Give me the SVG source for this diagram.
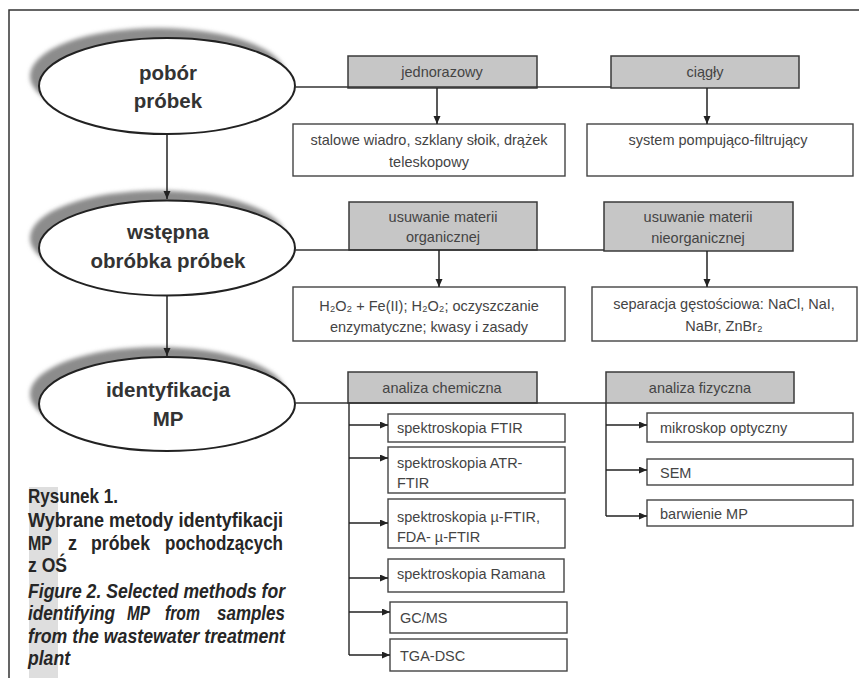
<svg xmlns="http://www.w3.org/2000/svg" width="859" height="678" viewBox="0 0 859 678">
<style>
.ell{fill:#fff;stroke:#222;stroke-width:2}
.sh{fill:#8c8c8c;filter:url(#blur)}
.et{font-family:"Liberation Sans",Arial,sans-serif;font-weight:bold;font-size:20.5px;fill:#333;text-anchor:middle}
.gb{fill:#c6c6c6;stroke:#3a3a3a;stroke-width:1.5}
.wb{fill:#fff;stroke:#444;stroke-width:1.4}
.t{font-family:"Liberation Sans",Arial,sans-serif;font-size:14.5px;fill:#444}
.c{text-anchor:middle}
.ln{fill:none;stroke:#333;stroke-width:1.5}
.ar{fill:none;stroke:#222;stroke-width:1.5;marker-end:url(#ah)}
.cap{font-family:"Liberation Sans",Arial,sans-serif;font-weight:bold;font-size:20px;fill:#262626}
.it{font-style:italic}
</style>
<defs>
<filter id="blur" x="-20%" y="-20%" width="140%" height="140%"><feGaussianBlur stdDeviation="2"/></filter>
<marker id="ah" markerUnits="userSpaceOnUse" markerWidth="9" markerHeight="8" refX="8" refY="3.5" orient="auto"><path d="M0,0 L8,3.5 L0,7 z" fill="#222"/></marker>
</defs>
<rect x="0" y="0" width="859" height="678" fill="#fff"/>
<g id="frame"><path class="ln" d="M9,678 V10 H859"/></g>
<rect id="caption-stripe" x="29" y="487" width="29" height="191" fill="#dedede"/>

<g id="n-pobor">
<ellipse class="sh" cx="158" cy="76" rx="128" ry="48"/>
<ellipse class="ell" cx="167" cy="86" rx="128" ry="48"/>
<text class="et" x="168" y="80">pobór</text>
<text class="et" x="168" y="108">próbek</text>
</g>
<g id="n-wstepna">
<ellipse class="sh" cx="158" cy="238" rx="128" ry="47.5"/>
<ellipse class="ell" cx="167" cy="248" rx="128" ry="47.5"/>
<text class="et" x="168" y="239">wstępna</text>
<text class="et" x="168" y="268">obróbka próbek</text>
</g>
<g id="n-ident">
<ellipse class="sh" cx="158" cy="394" rx="128" ry="47"/>
<ellipse class="ell" cx="167" cy="404" rx="128" ry="47"/>
<text class="et" x="168" y="397">identyfikacja</text>
<text class="et" x="168" y="426">MP</text>
</g>

<g id="n-jednorazowy"><rect class="gb" x="348" y="56" width="189" height="32"/><text class="t c" x="442" y="77">jednorazowy</text></g>
<g id="n-ciagly"><rect class="gb" x="611" y="56" width="188" height="32"/><text class="t c" x="705" y="77">ciągły</text></g>
<g id="n-stalowe"><rect class="wb" x="293" y="124" width="272" height="52"/><text class="t c" x="429" y="145">stalowe wiadro, szklany słoik, drążek</text><text class="t c" x="429" y="167">teleskopowy</text></g>
<g id="n-system"><rect class="wb" x="587" y="124" width="266" height="52"/><text class="t c" x="718" y="145">system pompująco-filtrujący</text></g>

<g id="n-org"><rect class="gb" x="349" y="202" width="188" height="48"/><text class="t c" x="443" y="222">usuwanie materii</text><text class="t c" x="443" y="242">organicznej</text></g>
<g id="n-nieorg"><rect class="gb" x="604" y="202" width="189" height="49"/><text class="t c" x="698" y="222">usuwanie materii</text><text class="t c" x="698" y="243">nieorganicznej</text></g>
<g id="n-h2o2"><rect class="wb" x="293" y="287" width="272" height="54"/><text class="t c" x="429" y="311">H₂O₂ + Fe(II); H₂O₂; oczyszczanie</text><text class="t c" x="429" y="332">enzymatyczne; kwasy i zasady</text></g>
<g id="n-separacja"><rect class="wb" x="592" y="287" width="265" height="54"/><text class="t c" x="724" y="309">separacja gęstościowa: NaCl, NaI,</text><text class="t c" x="724" y="331">NaBr, ZnBr₂</text></g>

<g id="n-chem"><rect class="gb" x="348" y="372" width="189" height="31"/><text class="t c" x="442" y="393">analiza chemiczna</text></g>
<g id="n-fiz"><rect class="gb" x="606" y="372" width="188" height="31"/><text class="t c" x="700" y="393">analiza fizyczna</text></g>

<g id="n-ftir"><rect class="wb" x="388" y="414" width="177" height="28"/><text class="t" x="397" y="433">spektroskopia FTIR</text></g>
<g id="n-atr"><rect class="wb" x="388" y="447" width="177" height="46"/><text class="t" x="397" y="468">spektroskopia ATR-</text><text class="t" x="397" y="488">FTIR</text></g>
<g id="n-mu"><rect class="wb" x="388" y="499" width="177" height="49"/><text class="t" x="397" y="522">spektroskopia  µ-FTIR,</text><text class="t" x="397" y="542">FDA- µ-FTIR</text></g>
<g id="n-raman"><rect class="wb" x="388" y="559" width="176" height="33"/><text class="t" x="397" y="579">spektroskopia Ramana</text></g>
<g id="n-gcms"><rect class="wb" x="390" y="602" width="177" height="31"/><text class="t" x="400" y="623">GC/MS</text></g>
<g id="n-tga"><rect class="wb" x="390" y="639" width="177" height="32"/><text class="t" x="400" y="661">TGA-DSC</text></g>

<g id="n-mikroskop"><rect class="wb" x="647" y="413" width="206" height="29"/><text class="t" x="660" y="433">mikroskop optyczny</text></g>
<g id="n-sem"><rect class="wb" x="647" y="459" width="206" height="26"/><text class="t" x="660" y="478">SEM</text></g>
<g id="n-barwienie"><rect class="wb" x="647" y="500" width="206" height="26"/><text class="t" x="660" y="519">barwienie MP</text></g>

<g id="connectors">
<path class="ln" d="M295,87 H611"/>
<path class="ln" d="M295,250 H604"/>
<path class="ln" d="M295,403 H606"/>
<path class="ar" d="M167,134 V199"/>
<path class="ar" d="M167,296 V356"/>
<path class="ar" d="M437,88 V124"/>
<path class="ar" d="M707,88 V124"/>
<path class="ar" d="M439,250 V287"/>
<path class="ar" d="M707,251 V287"/>
<path class="ln" d="M349,403 V655"/>
<path class="ar" d="M349,425 H388"/>
<path class="ar" d="M349,458 H388"/>
<path class="ar" d="M349,523 H388"/>
<path class="ar" d="M349,578 H388"/>
<path class="ar" d="M349,612 H390"/>
<path class="ar" d="M349,655 H390"/>
<path class="ln" d="M606,403 V516"/>
<path class="ar" d="M606,425 H647"/>
<path class="ar" d="M606,470 H647"/>
<path class="ar" d="M606,516 H647"/>
</g>

<g id="caption">
<text class="cap" x="28" y="503" textLength="90" lengthAdjust="spacingAndGlyphs">Rysunek 1.</text>
<text class="cap" x="28" y="527" textLength="255" lengthAdjust="spacingAndGlyphs">Wybrane metody identyfikacji</text>
<text class="cap" x="28" y="550" textLength="24" lengthAdjust="spacingAndGlyphs">MP</text>
<text class="cap" x="68" y="550" textLength="9" lengthAdjust="spacingAndGlyphs">z</text>
<text class="cap" x="91" y="550" textLength="59" lengthAdjust="spacingAndGlyphs">próbek</text>
<text class="cap" x="165" y="550" textLength="118" lengthAdjust="spacingAndGlyphs">pochodzących</text>
<text class="cap" x="28" y="572" textLength="39" lengthAdjust="spacingAndGlyphs">z OŚ</text>
<text class="cap it" x="28" y="598" textLength="257" lengthAdjust="spacingAndGlyphs">Figure 2. Selected methods for</text>
<text class="cap it" x="28" y="620" textLength="87" lengthAdjust="spacingAndGlyphs">identifying</text>
<text class="cap it" x="127" y="620" textLength="23" lengthAdjust="spacingAndGlyphs">MP</text>
<text class="cap it" x="165" y="620" textLength="35" lengthAdjust="spacingAndGlyphs">from</text>
<text class="cap it" x="217" y="620" textLength="68" lengthAdjust="spacingAndGlyphs">samples</text>
<text class="cap it" x="28" y="643" textLength="257" lengthAdjust="spacingAndGlyphs">from the wastewater treatment</text>
<text class="cap it" x="28" y="665" textLength="42" lengthAdjust="spacingAndGlyphs">plant</text>
</g>
</svg>
